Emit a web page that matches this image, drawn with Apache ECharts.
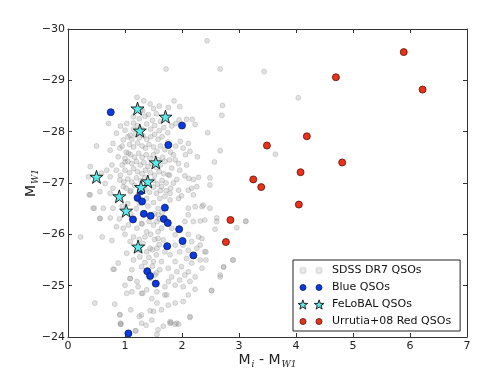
<!DOCTYPE html>
<html>
<head>
<meta charset="utf-8">
<script src="https://cdn.jsdelivr.net/npm/echarts@6/dist/echarts.min.js"></script>
<style>
  html, body { margin: 0; padding: 0; background: #fff; }
  #chart { width: 490px; height: 378px; }
</style>
</head>
<body>
<div id="chart"></div>
<script>
// tick values
const xTicks = [0, 1, 2, 3, 4, 5, 6, 7]
const yTicks = [-30, -29, -28, -27, -26, -25, -24]

// SDSS DR7 QSOs  [Mi - MW1, MW1]
const sdssQsos = [
  [1.21, -28.67], [1.33, -28.6], [1.44, -28.54], [1.31, -28.41], [1.41, -28.33], [1.15, -28.29],
  [0.71, -28.16], [0.92, -28.11], [1.03, -28.16], [1.15, -28.17], [1.0, -28.03], [0.85, -27.97],
  [1.09, -27.93], [0.97, -27.84], [0.79, -27.77], [0.5, -27.72], [0.74, -27.64], [0.91, -27.68],
  [0.88, -27.51], [1.06, -27.58], [1.0, -27.41], [0.77, -27.35], [0.85, -27.25], [0.68, -27.25],
  [0.59, -27.19], [0.39, -27.32], [0.36, -27.12], [0.74, -27.12], [0.91, -27.06], [0.65, -26.99],
  [0.56, -26.83], [0.79, -26.9], [0.97, -26.93], [0.74, -26.8], [0.39, -26.77], [1.09, -26.83],
  [1.86, -28.6], [1.96, -28.49], [1.76, -28.47], [2.71, -28.51], [2.7, -28.32], [1.95, -28.23],
  [2.08, -28.24], [2.18, -28.24], [2.23, -28.14], [1.89, -28.16], [1.82, -28.11], [2.45, -27.98],
  [1.97, -27.81], [2.11, -27.77], [1.89, -27.72], [2.02, -27.68], [2.14, -27.62], [2.67, -27.63],
  [2.27, -27.51], [2.06, -27.55], [2.57, -27.41], [1.88, -27.45], [1.94, -27.38], [2.08, -27.35],
  [1.82, -27.29], [1.96, -27.25], [1.76, -27.16], [1.91, -27.07], [2.05, -27.14], [2.12, -27.09],
  [2.2, -27.07], [2.29, -27.11], [2.49, -27.1], [2.17, -26.9], [2.11, -26.86], [1.94, -26.86],
  [1.79, -26.8], [1.99, -26.75], [1.64, -26.93], [1.7, -26.74],
  [0.46, -26.51], [0.56, -26.31], [0.74, -26.32], [0.62, -26.51], [0.79, -26.51], [0.22, -25.95],
  [0.6, -25.95], [0.77, -25.88], [1.0, -26.0], [1.06, -26.18], [0.97, -26.12], [1.21, -26.12],
  [1.29, -26.21], [1.38, -26.05], [1.09, -25.86], [1.03, -25.63], [0.88, -25.44], [0.81, -25.32],
  [1.15, -25.5], [1.26, -25.56], [1.12, -25.31], [1.09, -25.14], [1.0, -25.01], [1.03, -24.85],
  [1.29, -24.85], [1.23, -24.98], [1.38, -24.92], [0.82, -24.64], [0.47, -24.66], [0.91, -24.44],
  [1.1, -24.53], [1.29, -24.43], [1.47, -24.33], [0.92, -24.27], [1.18, -24.12], [1.5, -24.5],
  [1.44, -25.14], [1.53, -25.21], [1.47, -24.75], [1.56, -24.66], [1.32, -25.82], [1.44, -25.73],
  [1.5, -25.47], [1.38, -25.66], [1.26, -25.69], [1.29, -25.37], [1.21, -25.08], [1.12, -24.88],
  [2.11, -26.51], [2.23, -26.54], [2.35, -26.54], [2.49, -26.51], [2.61, -26.32], [2.4, -26.28],
  [2.32, -26.26], [2.58, -26.1], [2.96, -26.13], [3.12, -26.26], [2.89, -25.5], [2.73, -25.37],
  [2.67, -25.21], [2.52, -24.9], [2.4, -25.66], [2.42, -25.5], [2.35, -25.34], [2.23, -25.17],
  [2.14, -25.08], [2.23, -24.93], [2.02, -24.98], [2.11, -24.82], [2.02, -24.69], [1.88, -24.66],
  [1.76, -24.62], [2.14, -24.4], [1.91, -24.27], [1.79, -24.3], [1.58, -24.14], [1.64, -24.53],
  [1.7, -24.82], [1.56, -24.88], [2.35, -25.92], [2.32, -25.79], [2.26, -25.73], [2.17, -25.86],
  [2.11, -26.0], [2.17, -25.44], [2.08, -25.53], [1.99, -25.37], [1.91, -25.27], [1.82, -25.17],
  [1.76, -25.08], [1.7, -24.98], [1.88, -25.01], [1.96, -25.11], [2.05, -25.21], [2.11, -25.27],
  [1.88, -25.47], [1.79, -25.6], [1.7, -25.66], [1.64, -25.47], [1.61, -25.31], [1.76, -25.34],
  [1.88, -25.79], [1.96, -25.66], [2.02, -25.79], [2.11, -25.69], [1.88, -25.99], [1.82, -26.12],
  [1.76, -26.25], [1.64, -26.12], [1.58, -25.92], [1.67, -25.89], [1.56, -25.73], [1.61, -26.7],
  [1.79, -26.67], [1.94, -26.7], [2.05, -26.25], [2.2, -26.25], [2.11, -26.38], [2.29, -25.95],
  [1.58, -26.38], [1.56, -26.25],
  [1.05, -27.9], [1.12, -27.85], [1.18, -27.95], [1.25, -27.88], [1.32, -27.92], [1.38, -27.85],
  [1.45, -27.9], [1.52, -27.95], [1.58, -27.85], [1.65, -27.9], [1.08, -27.75], [1.15, -27.7],
  [1.22, -27.78], [1.3, -27.72], [1.36, -27.68], [1.42, -27.75], [1.5, -27.7], [1.56, -27.62],
  [1.62, -27.72], [1.7, -27.65], [1.02, -27.6], [1.1, -27.55], [1.17, -27.5], [1.24, -27.58],
  [1.3, -27.5], [1.37, -27.55], [1.44, -27.48], [1.5, -27.55], [1.58, -27.45], [1.66, -27.5],
  [1.05, -27.42], [1.12, -27.38], [1.2, -27.42], [1.27, -27.35], [1.33, -27.4], [1.4, -27.32],
  [1.47, -27.38], [1.55, -27.3], [1.62, -27.35], [1.7, -27.42], [1.0, -27.25], [1.08, -27.2],
  [1.15, -27.28], [1.22, -27.22], [1.3, -27.18], [1.36, -27.25], [1.45, -27.2], [1.52, -27.15],
  [1.6, -27.22], [1.68, -27.18], [1.05, -27.08], [1.12, -27.02], [1.2, -27.1], [1.28, -27.05],
  [1.35, -27.1], [1.5, -27.05], [1.57, -26.98], [1.65, -27.05], [1.72, -27.0], [1.02, -26.9],
  [1.1, -26.85], [1.17, -26.95], [1.35, -26.88], [1.43, -26.82], [1.5, -26.92], [1.55, -26.8],
  [1.62, -26.85], [1.15, -28.05], [1.22, -28.12], [1.3, -28.05], [1.38, -28.15], [1.45, -28.05],
  [1.52, -28.12], [1.6, -28.02], [1.68, -28.08], [1.75, -27.98], [1.25, -28.25], [1.35, -28.3],
  [1.48, -28.22], [1.55, -28.35], [1.62, -28.2], [1.28, -28.42], [1.5, -28.45], [1.6, -28.5],
  [1.75, -27.8], [1.8, -27.6], [1.78, -27.45], [1.85, -27.55], [1.78, -27.15], [1.85, -27.0],
  [1.72, -26.85], [1.8, -26.9], [0.95, -27.35], [0.92, -27.15], [0.98, -27.02], [0.95, -27.72],
  [1.0, -27.48],
  [1.25, -26.6], [1.4, -26.55], [1.5, -26.62], [1.58, -26.5], [1.65, -26.42], [1.52, -26.4],
  [1.6, -26.3], [1.42, -26.25], [1.5, -26.18], [1.58, -26.05], [1.45, -26.0], [1.35, -25.95],
  [1.52, -25.9], [1.6, -25.8], [1.48, -25.7], [1.55, -25.6], [1.42, -25.55], [1.35, -25.45],
  [1.48, -25.38], [1.4, -25.3], [1.55, -25.25], [1.2, -25.7], [1.15, -25.95], [1.25, -25.9],
  [1.1, -26.4], [1.2, -26.5], [1.3, -26.2], [1.38, -26.7], [1.05, -26.6], [0.95, -26.55],
  [0.9, -26.3], [0.85, -26.15],
  [0.44, -26.51], [0.37, -26.77], [0.56, -26.31], [0.79, -25.32], [0.91, -24.43], [0.93, -24.25],
  [1.09, -25.14], [1.25, -24.4], [1.31, -24.85], [1.56, -24.05], [1.44, -24.51], [1.73, -24.82],
  [1.79, -24.27], [1.94, -24.25], [2.14, -24.38], [2.52, -24.91], [2.32, -25.5], [2.42, -25.66],
  [2.73, -25.36], [2.67, -25.17], [2.9, -25.5], [2.61, -26.25], [2.37, -26.57], [2.2, -26.77],
  [2.49, -26.96], [2.26, -26.93], [0.92, -24.25], [1.19, -24.12], [1.29, -24.27], [1.37, -24.23],
  [1.67, -24.21], [1.81, -24.28], [1.88, -24.25],
  [2.44, -29.77], [1.72, -29.22], [2.67, -29.22], [3.44, -29.17], [4.04, -28.66], [3.64, -27.56],
  [3.12, -26.25]
]

// Blue QSOs
const blueQsos = [
  [0.75, -28.38], [2.0, -28.12], [1.76, -27.74], [1.28, -26.84], [1.22, -26.71], [1.3, -26.64],
  [1.7, -26.52], [1.33, -26.4], [1.45, -26.36], [1.14, -26.29], [1.68, -26.3], [1.75, -26.22],
  [1.95, -26.1], [2.01, -25.87], [1.74, -25.77], [2.2, -25.59], [1.39, -25.28], [1.44, -25.19],
  [1.54, -25.04], [1.06, -24.07]
]

// FeLoBAL QSOs
const feLoBalQsos = [
  [1.22, -28.45], [1.71, -28.29], [1.26, -28.02], [1.54, -27.4], [0.5, -27.12], [1.4, -27.03],
  [1.28, -26.92], [0.9, -26.74], [1.02, -26.46], [1.23, -25.76]
]

// Urrutia+08 Red QSOs
const redQsos = [
  [5.89, -29.55], [4.7, -29.06], [6.22, -28.82], [4.19, -27.91], [3.49, -27.73], [4.81, -27.4],
  [4.08, -27.21], [3.25, -27.07], [3.39, -26.92], [4.05, -26.58], [2.85, -26.28], [2.77, -25.85]
]

const starPath = 'path://M5,0L6.14,3.43L9.76,3.45L6.85,5.6L7.94,9.05L5,6.95L2.06,9.05L3.15,5.6L0.24,3.45L3.86,3.43Z'
// legend icons: two markers per row, like the reference
const twoStarsPath = 'path://M5,0.5L6.14,3.93L9.76,3.95L6.85,6.1L7.94,9.55L5,7.45L2.06,9.55L3.15,6.1L0.24,3.95L3.86,3.93Z' +
  'M21,0.5L22.14,3.93L25.76,3.95L22.85,6.1L23.94,9.55L21,7.45L18.06,9.55L19.15,6.1L16.24,3.95L19.86,3.93Z'
const twoDotsPath = 'path://M0,0M26,10M2,5A3,3 0 1,0 8,5A3,3 0 1,0 2,5ZM18,5A3,3 0 1,0 24,5A3,3 0 1,0 18,5Z'

const fontFamily = 'DejaVu Sans'
const frameColor = '#333'

const greyStyle = { color: 'rgba(150,150,150,0.36)', borderColor: 'rgba(80,80,80,0.36)', borderWidth: 0.6 }
const blueStyle = { color: '#0b3be0', borderColor: '#0a1a5a', borderWidth: 0.8, opacity: 1 }
const starStyle = { color: '#5fe8e8', borderColor: '#111', borderWidth: 0.9, opacity: 1 }
const redStyle = { color: '#e8321c', borderColor: '#5a1208', borderWidth: 0.8, opacity: 1 }

const chartInstance = echarts.init(document.getElementById('chart'))

const yLabel = v => (v < 0 ? '\u2212' + Math.abs(v) : String(v))

const nameRich = {
  n: { fontSize: 14, color: '#222', fontFamily },
  s: { fontSize: 9, color: '#222', fontStyle: 'italic', fontFamily: 'DejaVu Serif', padding: [9, 0, 0, 1] }
}

const option = {
  animation: false,
  textStyle: { fontFamily },
  grid: { left: 68, right: 23, top: 29, bottom: 41 },
  xAxis: [
    {
      type: 'value',
      min: xTicks[0],
      max: xTicks[xTicks.length - 1],
      interval: 1,
      position: 'bottom',
      name: '{n|M}{s|i}{n| - M}{s|W1}',
      nameLocation: 'middle',
      nameGap: 14,
      nameMoveOverlap: false,
      nameTextStyle: { rich: nameRich },
      axisLine: { onZero: false, lineStyle: { color: frameColor, width: 1 } },
      axisTick: { inside: true, length: 4, lineStyle: { color: frameColor } },
      axisLabel: { margin: 4, fontSize: 11, color: '#222' },
      splitLine: { show: false }
    },
    {
      type: 'value',
      min: xTicks[0],
      max: xTicks[xTicks.length - 1],
      interval: 1,
      position: 'top',
      axisLine: { onZero: false, lineStyle: { color: frameColor, width: 1 } },
      axisTick: { inside: true, length: 4, lineStyle: { color: frameColor } },
      axisLabel: { show: false },
      splitLine: { show: false }
    }
  ],
  yAxis: [
    {
      type: 'value',
      min: yTicks[0],
      max: yTicks[yTicks.length - 1],
      interval: 1,
      inverse: true,
      position: 'left',
      name: '{n|M}{s|W1}',
      nameLocation: 'middle',
      nameGap: 28,
      nameMoveOverlap: false,
      nameRotate: 90,
      nameTextStyle: { rich: nameRich },
      axisLine: { onZero: false, lineStyle: { color: frameColor, width: 1 } },
      axisTick: { inside: true, length: 4, lineStyle: { color: frameColor } },
      axisLabel: { margin: 3, fontSize: 11, color: '#222', formatter: yLabel },
      splitLine: { show: false }
    },
    {
      type: 'value',
      min: yTicks[0],
      max: yTicks[yTicks.length - 1],
      interval: 1,
      inverse: true,
      position: 'right',
      axisLine: { onZero: false, lineStyle: { color: frameColor, width: 1 } },
      axisTick: { inside: true, length: 4, lineStyle: { color: frameColor } },
      axisLabel: { show: false },
      splitLine: { show: false }
    }
  ],
  legend: {
    orient: 'vertical',
    left: 293,
    top: 260,
    padding: [4, 9, 3, 4],
    itemGap: 4,
    borderColor: '#222',
    borderWidth: 1,
    borderRadius: 0,
    backgroundColor: '#fff',
    textStyle: { fontSize: 11, color: '#111', fontFamily, lineHeight: 13, padding: [0, 0, 0, 3] },
    itemWidth: 26,
    itemHeight: 10,
    data: [
      { name: 'SDSS DR7 QSOs', icon: twoDotsPath, itemStyle: { color: 'rgba(150,150,150,0.25)', borderColor: 'rgba(90,90,90,0.15)' } },
      { name: 'Blue QSOs', icon: twoDotsPath, itemStyle: blueStyle },
      { name: 'FeLoBAL QSOs', icon: twoStarsPath, itemStyle: starStyle },
      { name: 'Urrutia+08 Red QSOs', icon: twoDotsPath, itemStyle: redStyle }
    ]
  },
  series: [
    {
      name: 'SDSS DR7 QSOs',
      type: 'scatter',
      symbol: 'circle',
      symbolSize: 5,
      data: sdssQsos,
      itemStyle: greyStyle
    },
    {
      name: 'Blue QSOs',
      type: 'scatter',
      symbol: 'circle',
      symbolSize: 7,
      data: blueQsos,
      itemStyle: blueStyle
    },
    {
      name: 'FeLoBAL QSOs',
      type: 'scatter',
      symbol: starPath,
      symbolSize: 13,
      data: feLoBalQsos,
      itemStyle: starStyle
    },
    {
      name: 'Urrutia+08 Red QSOs',
      type: 'scatter',
      symbol: 'circle',
      symbolSize: 7,
      data: redQsos,
      itemStyle: redStyle
    }
  ]
}

chartInstance.setOption(option)
</script>
</body>
</html>
